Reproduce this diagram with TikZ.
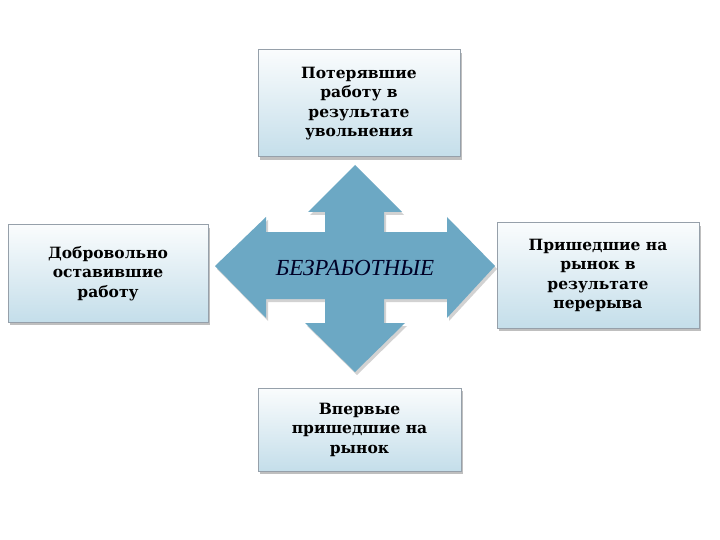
\documentclass[tikz,border=0pt]{standalone}
\usepackage{fontspec}
\setmainfont{DejaVu Serif}
\newfontfamily\itfont{Liberation Serif}
\usetikzlibrary{shadows}
\definecolor{arrowblue}{RGB}{108,168,196}
\definecolor{boxtop}{RGB}{250,252,253}
\definecolor{boxbot}{RGB}{196,222,234}
\definecolor{boxline}{RGB}{150,160,170}
\begin{document}
\begin{tikzpicture}[x=1pt,y=-1pt,
  infobox/.style={draw=boxline,line width=1pt,top color=boxtop,bottom color=boxbot,
    drop shadow={shadow xshift=2pt,shadow yshift=-3pt,opacity=0.5},
    font=\bfseries\fontsize{15.5}{19.5}\selectfont,align=center,inner sep=0pt}]
\useasboundingbox (0,0) rectangle (720,540);
\fill[white] (0,0) rectangle (720,540);
% quad arrow
\fill[arrowblue,drop shadow={shadow xshift=2pt,shadow yshift=-3pt,opacity=0.35}]
  (355,165) -- (402,212) -- (384,212) -- (384,232) -- (447,232) -- (447,217) -- (495,266)
  -- (447,318) -- (447,299) -- (384,299) -- (384,323) -- (405,323) -- (355,372)
  -- (305,323) -- (325,323) -- (325,299) -- (266,299) -- (266,318) -- (215,266)
  -- (266,217) -- (266,232) -- (325,232) -- (325,212) -- (308,212) -- cycle;
\node[font=\itfont\itshape\fontsize{23}{26}\selectfont,text=black!85!blue] (c) at (355,268) {БЕЗРАБОТНЫЕ};
\node[infobox,minimum width=202pt,minimum height=107pt] (t) at (359,103.5) {Потерявшие\\работу в\\результате\\увольнения};
\node[infobox,minimum width=200pt,minimum height=97pt] (l) at (108,273.5) {Добровольно\\оставившие\\работу};
\node[infobox,minimum width=202pt,minimum height=105pt] (r) at (598,275.5) {Пришедшие на\\рынок в\\результате\\перерыва};
\node[infobox,minimum width=203pt,minimum height=83pt] (b) at (359.5,429.5) {Впервые\\пришедшие на\\рынок};
\end{tikzpicture}
\end{document}
